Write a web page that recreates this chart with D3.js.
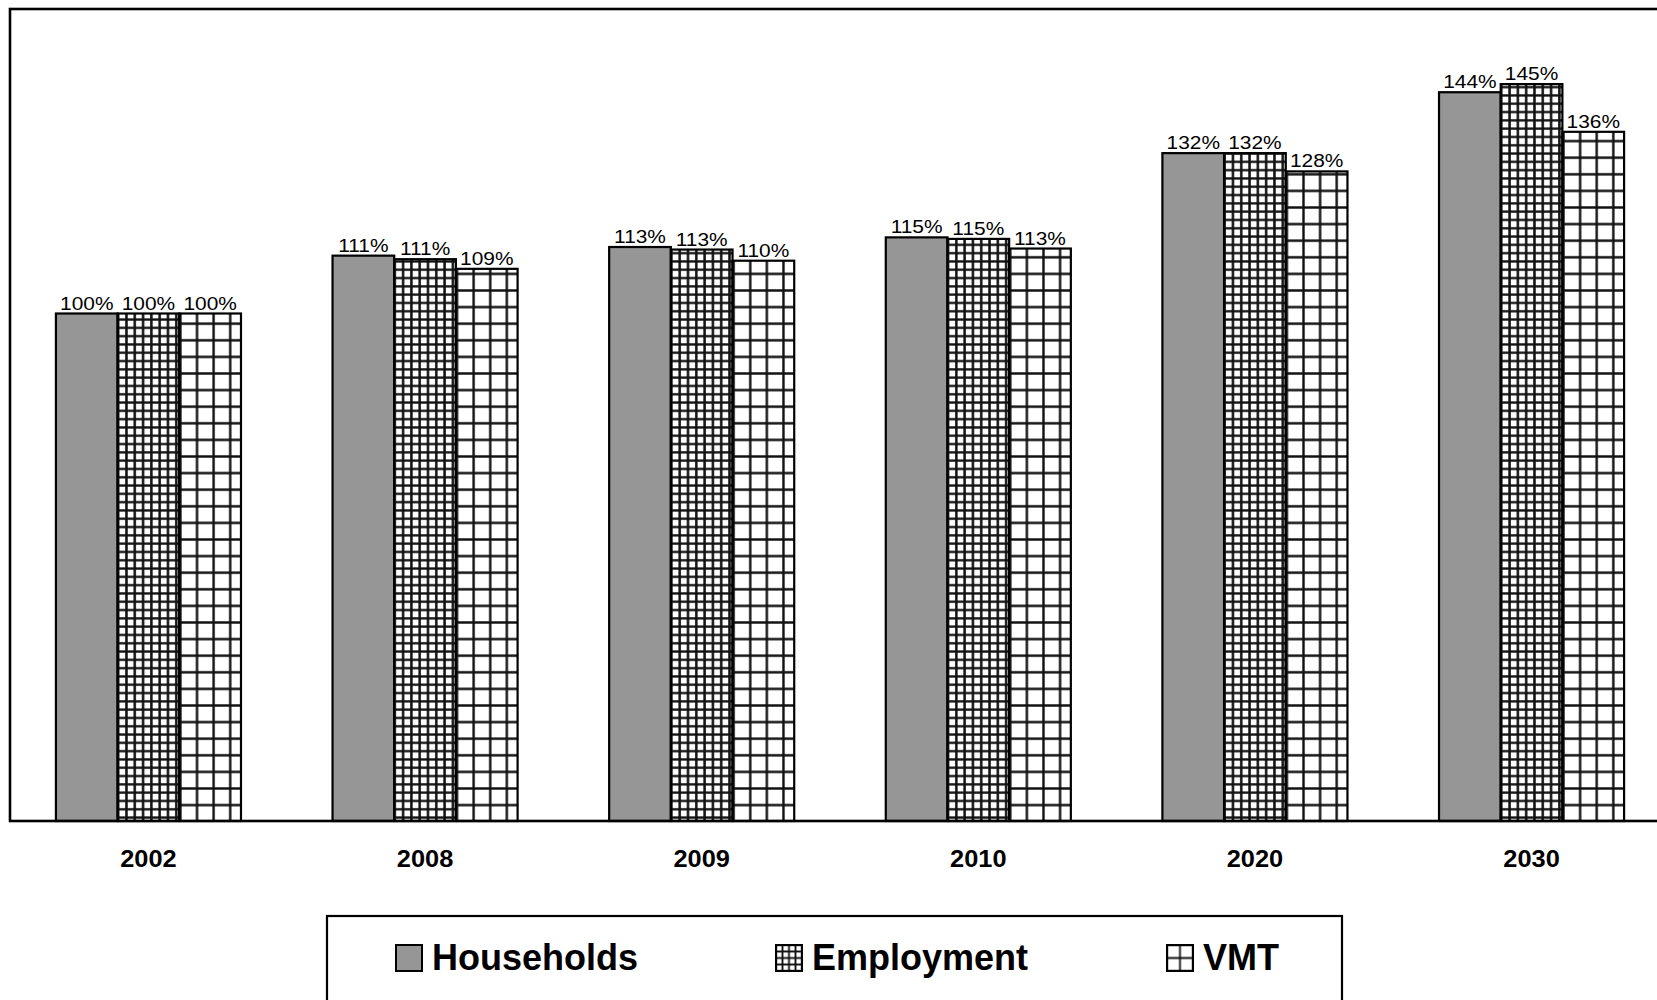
<!DOCTYPE html>
<html>
<head>
<meta charset="utf-8">
<script src="https://cdn.jsdelivr.net/npm/d3@7"></script>
<style>
  html, body { margin: 0; padding: 0; background: #fff; }
  svg { display: block; font-family: "Liberation Sans", Arial, sans-serif; }
</style>
</head>
<body>
<svg id="chart" width="1657" height="1000"></svg>
<script>
// ---- Data ----
const years = ["2002", "2008", "2009", "2010", "2020", "2030"];
const seriesNames = ["Households", "Employment", "VMT"];
const households = [100, 111.4, 113.1, 115.0, 131.6, 143.6];
const employment = [100, 110.7, 112.6, 114.7, 131.6, 145.2];
const vmt = [100, 108.8, 110.4, 112.8, 128.0, 135.8];
const yDomain = [0, 160];

const seriesValues = { Households: households, Employment: employment, VMT: vmt };

// ---- Setup ----
const svg = d3.select("#chart");
const W = 1657, H = 1000;
const plot = { left: 10, right: 1670, top: 9, bottom: 821 };

svg.append("rect").attr("width", W).attr("height", H).attr("fill", "#fff");

const defs = svg.append("defs");
function gridPattern(id, period, sw, ox, oy) {
  const p = defs.append("pattern")
    .attr("id", id)
    .attr("patternUnits", "userSpaceOnUse")
    .attr("width", period).attr("height", period)
    .attr("x", ox || 0).attr("y", oy || 0);
  p.append("rect").attr("width", period).attr("height", period).attr("fill", "#fff");
  p.append("path")
    .attr("d", `M${period / 2},0V${period}M0,${period / 2}H${period}`)
    .attr("stroke", "#111").attr("stroke-width", sw).attr("fill", "none");
}
gridPattern("pEmp", 8.3, 2.5);
gridPattern("pVmt", 16.6, 2.4);

const fills = {
  Households: "#969696",
  Employment: "url(#pEmp)",
  VMT: "url(#pVmt)"
};

// ---- Scales ----
const x = d3.scaleBand().domain(years).range([plot.left, plot.right])
  .paddingInner(0.331).paddingOuter(0.166);
const xs = d3.scaleBand().domain(seriesNames).range([0, x.bandwidth()]).padding(0);
const y = d3.scaleLinear().domain(yDomain).range([plot.bottom, plot.top]);

// ---- Bars ----
const rows = years.map((yr, i) => ({
  year: yr,
  items: seriesNames.map(s => ({ series: s, value: seriesValues[s][i] }))
}));

const groups = svg.append("g").selectAll("g.grp").data(rows).join("g")
  .attr("class", "grp")
  .attr("transform", d => `translate(${x(d.year)},0)`);

groups.selectAll("rect").data(d => d.items).join("rect")
  .attr("x", d => xs(d.series))
  .attr("y", d => y(d.value))
  .attr("width", xs.bandwidth())
  .attr("height", d => y(0) - y(d.value))
  .attr("fill", d => fills[d.series])
  .attr("stroke", "#000").attr("stroke-width", 2.2);

groups.selectAll("text").data(d => d.items).join("text")
  .attr("transform", d => `translate(${xs(d.series) + xs.bandwidth() / 2},${y(d.value) - 4}) scale(1.1,1)`)
  .attr("text-anchor", "middle")
  .attr("font-size", 19)
  .attr("fill", "#000")
  .text(d => d3.format(".0f")(d.value) + "%");

// ---- Frame ----
svg.append("rect")
  .attr("x", plot.left).attr("y", plot.top)
  .attr("width", plot.right - plot.left).attr("height", plot.bottom - plot.top)
  .attr("fill", "none").attr("stroke", "#000").attr("stroke-width", 2.6);

// ---- X axis ----
const xAxis = svg.append("g")
  .attr("transform", `translate(0,${plot.bottom})`)
  .call(d3.axisBottom(x).tickSize(0).tickPadding(29));
xAxis.select(".domain").remove();
xAxis.selectAll("text")
  .attr("font-size", 23.5).attr("font-weight", "bold")
  .attr("font-family", "'Liberation Sans', Arial, sans-serif")
  .attr("transform", "scale(1.08,1)")
  .attr("fill", "#000");

// ---- Legend ----
const legend = svg.append("g");
legend.append("rect")
  .attr("x", 327).attr("y", 916).attr("width", 1015).attr("height", 120)
  .attr("fill", "#fff").attr("stroke", "#000").attr("stroke-width", 2.2);

const legendX = { Households: 396, Employment: 776, VMT: 1167 };
const swSize = 26, swY = 945;
gridPattern("lEmp", swSize / 4, 1.8, legendX.Employment + swSize / 8, swY + swSize / 8);
gridPattern("lVmt", swSize / 2, 1.8, legendX.VMT + swSize / 4, swY + swSize / 4);
const legendFill = { Households: "#969696", Employment: "url(#lEmp)", VMT: "url(#lVmt)" };

const li = legend.selectAll("g.li").data(seriesNames).join("g").attr("class", "li");
li.append("rect")
  .attr("x", d => legendX[d]).attr("y", swY)
  .attr("width", swSize).attr("height", swSize)
  .attr("fill", d => legendFill[d])
  .attr("stroke", "#000").attr("stroke-width", 2);
li.append("text")
  .attr("x", d => legendX[d] + 36).attr("y", swY + 25)
  .attr("font-size", 36).attr("font-weight", "bold").attr("fill", "#000")
  .text(d => d);
</script>
</body>
</html>
